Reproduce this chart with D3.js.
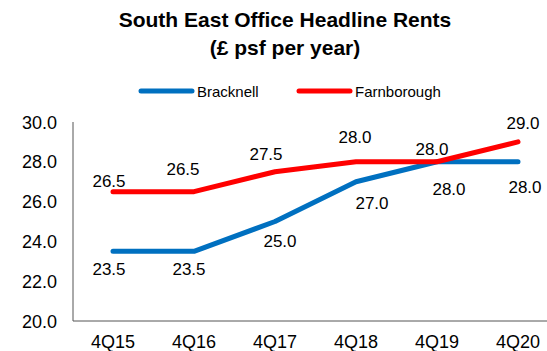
<!DOCTYPE html>
<html>
<head>
<meta charset="utf-8">
<script src="https://cdn.jsdelivr.net/npm/d3@7"></script>
<style>
  body { margin: 0; background: #fff; }
  svg { font-family: "Liberation Sans", Arial, sans-serif; }
</style>
</head>
<body>
<div id="chart"></div>
<script>
const quarters = ["4Q15", "4Q16", "4Q17", "4Q18", "4Q19", "4Q20"]
const bracknell = [23.5, 23.5, 25.0, 27.0, 28.0, 28.0]
const farnborough = [26.5, 26.5, 27.5, 28.0, 28.0, 29.0]
const yTicks = [20, 22, 24, 26, 28, 30]

const width = 547, height = 351
const svg = d3.select("#chart").append("svg")
    .attr("width", width)
    .attr("height", height)

// title
svg.append("text").attr("x", 285).attr("y", 27)
    .attr("text-anchor", "middle").attr("font-size", 21).attr("font-weight", "bold")
    .text("South East Office Headline Rents")
svg.append("text").attr("x", 285).attr("y", 55)
    .attr("text-anchor", "middle").attr("font-size", 21).attr("font-weight", "bold")
    .text("(£ psf per year)")

// 分类中心点
const x = d3.scalePoint().domain(quarters).range([113, 518])
const y = d3.scaleLinear().domain([20, 30]).range([321, 122])

// axes lines
svg.append("line").attr("x1", 73).attr("x2", 73).attr("y1", y(30)).attr("y2", y(20))
    .attr("stroke", "#555").attr("stroke-width", 1)
svg.append("line").attr("x1", 73).attr("x2", width).attr("y1", y(20)).attr("y2", y(20))
    .attr("stroke", "#555").attr("stroke-width", 1)

// y tick labels
svg.append("g").selectAll("text").data(yTicks).enter().append("text")
    .attr("x", 57).attr("y", d => y(d) + 6.5)
    .attr("text-anchor", "end").attr("font-size", 18)
    .text(d => d.toFixed(1))

// x tick labels
svg.append("g").selectAll("text").data(quarters).enter().append("text")
    .attr("x", d => x(d)).attr("y", 348)
    .attr("text-anchor", "middle").attr("font-size", 18)
    .text(d => d)

// 标签偏移(模仿原图手动摆放)
const series = [
    { name: "Bracknell", values: bracknell, color: "#0070C0",
      dx: [-4, -5, 5, 16, 12, 7], dy: [18, 18, 19, 21, 27, 25] },
    { name: "Farnborough", values: farnborough, color: "#FF0000",
      dx: [-4, -11, -9, -1, -5, 5], dy: [-11, -22.5, -18, -25, -13, -19] }
]

const line = d3.line()
    .x((d, i) => x(quarters[i]))
    .y(d => y(d))

series.forEach(s => {
    svg.append("path").datum(s.values)
        .attr("fill", "none").attr("stroke", s.color).attr("stroke-width", 5)
        .attr("stroke-linecap", "round").attr("stroke-linejoin", "round")
        .attr("d", line)
})

// data labels
series.forEach(s => {
    svg.append("g").selectAll("text").data(s.values).enter().append("text")
        .attr("x", (d, i) => x(quarters[i]) + s.dx[i])
        .attr("y", (d, i) => y(d) + s.dy[i] + 6)
        .attr("text-anchor", "middle").attr("font-size", 17)
        .text(d => d.toFixed(1))
})

// legend
const legend = svg.append("g")
const legendX = [141, 299]
series.forEach((s, i) => {
    legend.append("line").attr("x1", legendX[i]).attr("x2", legendX[i] + 51)
        .attr("y1", 91).attr("y2", 91)
        .attr("stroke", s.color).attr("stroke-width", 5).attr("stroke-linecap", "round")
    legend.append("text").attr("x", legendX[i] + 56).attr("y", 96.5)
        .attr("font-size", 15).text(s.name)
})
</script>
</body>
</html>
